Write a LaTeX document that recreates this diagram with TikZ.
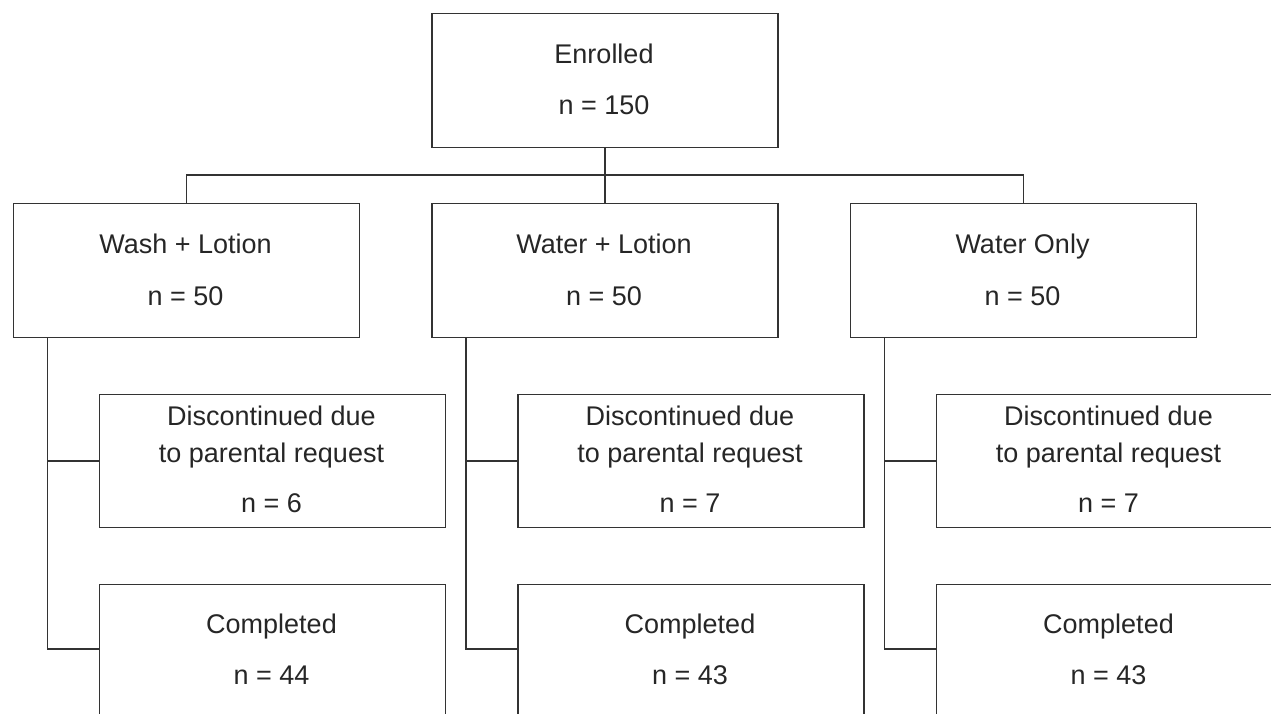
\documentclass[tikz,border=0pt]{standalone}
\usepackage{fontspec}
\setmainfont{Liberation Sans}
\begin{document}
\begin{tikzpicture}[x=1pt,y=-1pt,
  box/.style={draw=black!80,line width=1.8pt,rectangle,inner sep=0pt,anchor=north west},
  txt/.style={anchor=base,text=black!85,font=\fontsize{27}{32}\selectfont,inner sep=0pt},
  link/.style={draw=black!80,line width=1.8pt}]
\useasboundingbox (0,0) rectangle (1271,713);
\clip (0,0) rectangle (1271,713);
% top
\node[box,minimum width=346pt,minimum height=134pt] (enr) at (431,12.5) {};
\node[txt] (enrA) at (604,63) {Enrolled};
\node[txt] (enrB) at (604,114) {n = 150};
% groups
\foreach \nm/\x/\lab/\n/\d/\c in {g1/12.5/Wash + Lotion/50/6/44, g2/431/Water + Lotion/50/7/43, g3/849.5/Water Only/50/7/43}{
  \node[box,minimum width=346pt,minimum height=134pt] (\nm) at (\x,202.5) {};
  \node[txt] (\nm a) at ([xshift=173pt]\nm.north west |- 0,253) {\lab};
  \node[txt] (\nm b) at ([xshift=173pt]\nm.north west |- 0,305) {n = \n};
  \node[box,minimum width=346pt,minimum height=133pt] (\nm d) at ([xshift=86pt]\nm.north west |- 0,393.5) {};
  \node[txt] (\nm da) at ([xshift=173pt]\nm d.north west |- 0,425) {Discontinued due};
  \node[txt] (\nm db) at ([xshift=173pt]\nm d.north west |- 0,462) {to parental request};
  \node[txt] (\nm dc) at ([xshift=173pt]\nm d.north west |- 0,512) {n = \d};
  \node[box,minimum width=346pt,minimum height=160pt] (\nm c) at ([xshift=86pt]\nm.north west |- 0,583.5) {};
  \node[txt] (\nm ca) at ([xshift=173pt]\nm c.north west |- 0,633) {Completed};
  \node[txt] (\nm cb) at ([xshift=173pt]\nm c.north west |- 0,684) {n = \c};
  \coordinate (\nm L) at ([xshift=35pt]\nm.south west);
  \coordinate (\nm E) at (\nm L |- 0,649);
  \draw[link] (\nm L) -- (\nm E) -- (\nm E -| \nm c.west);
  \draw[link] (\nm L |- \nm d.west) -- (\nm d.west);
}
% top connectors
\coordinate (bar) at (enr.south |- 0,175);
\draw[link] (enr.south) -- (enr.south |- g2.north);
\draw[link] (g1.north) -- (g1.north |- bar) -- (g3.north |- bar) -- (g3.north);
\end{tikzpicture}
\end{document}
